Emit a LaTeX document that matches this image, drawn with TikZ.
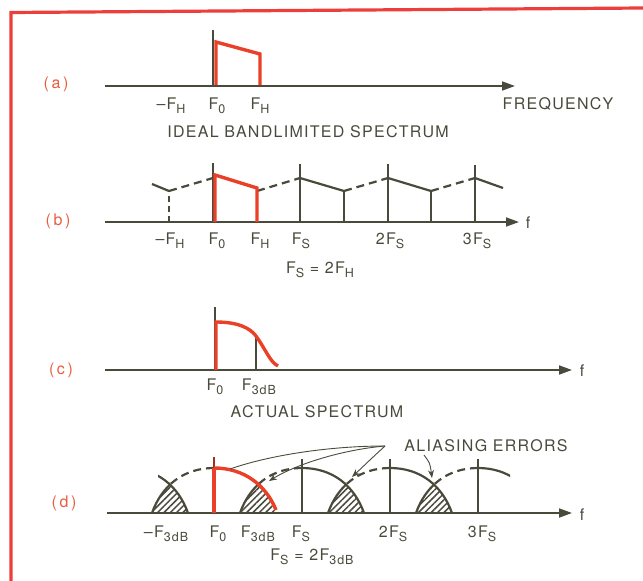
\documentclass[tikz,border=0pt]{standalone}
\usepackage{fontspec}
\setmainfont{TeX Gyre Heros}[LetterSpace=8]
\usepackage{tikz}
\usetikzlibrary{
  arrows.meta,
  patterns.meta
}
\definecolor{inkgray}{RGB}{74,74,60}
\definecolor{bandred}{RGB}{234,64,40}
\definecolor{partred}{RGB}{234,92,62}
\definecolor{framered}{RGB}{236,62,58}
\newcommand\dnsub[1]{\raisebox{-4pt}{\fontsize{12.5pt}{13pt}\selectfont #1}}
\tikzset{
  axisline/.style={
    line width=1.8pt,
    draw=inkgray,
    -{Triangle[length=13pt,width=9pt]},
  },
  tickline/.style={
    line width=1.1pt,
    draw=inkgray,
  },
  specline/.style={
    line width=2.2pt,
    draw=inkgray,
  },
  mirrorline/.style={
    specline,
    dash pattern=on 8pt off 5pt,
  },
  bandline/.style={
    line width=3.4pt,
    draw=bandred,
  },
  axlbl/.style={
    font=\fontsize{16pt}{18pt}\selectfont,
    text=inkgray,
    inner sep=0pt,
    anchor=base,
  },
  partlbl/.style={
    font=\fontsize{16pt}{18pt}\selectfont,
    text=partred,
    inner sep=0pt,
    anchor=base,
  },
  leader/.style={
    line width=0.9pt,
    draw=inkgray,
  },
  aliasfill/.style={
    pattern={Lines[angle=45,distance=4.5pt,line width=1.5pt]},
    pattern color=inkgray,
  },
}

\begin{document}
\begin{tikzpicture}[x=1pt, y=-1pt]
  \useasboundingbox (0,0) rectangle (643,581);

  % frame
  \draw[framered, line width=3.2pt] (11,581) -- (11,12.5) -- (643,8);

  % (a) ideal bandlimited spectrum
  \node[partlbl] (pa) at (56,88) {(\,a\,)};
  \draw[axisline] (105,86) -- (515,86);
  \draw[tickline] (213,86) -- (213,30);
  \draw[bandline] (216,85) -- (216,42) -- (260,54) -- (260,85);
  \node[axlbl] (amfh) at (171,109) {--F\dnsub{H}};
  \node[axlbl] (afz)  at (217,109) {F\dnsub{0}};
  \node[axlbl] (afh)  at (260,109) {F\dnsub{H}};
  \node[axlbl] (afreq) at (558,109) {FREQUENCY};
  \node[axlbl] (acap) at (308,137) {IDEAL BANDLIMITED SPECTRUM};

  % (b) sampled at 2F_H
  \node[partlbl] (pb) at (58,225) {(\,b\,)};
  \draw[axisline] (105,222) -- (519,222);
  \node[axlbl] (bf) at (528,228) {f};
  \draw[tickline, dash pattern=on 6pt off 4pt] (169,222) -- (169,191);
  \draw[tickline] (213,222) -- (213,163);
  \draw[tickline] (300,222) -- (300,164);
  \draw[tickline] (344,222) -- (344,191);
  \draw[tickline] (388,222) -- (388,164);
  \draw[tickline] (431,222) -- (431,191);
  \draw[tickline] (475,222) -- (475,165);
  \draw[specline] (152,184) -- (169,191);
  \draw[mirrorline] (169,191) -- (213,178);
  \draw[mirrorline] (257,191) -- (300,178);
  \draw[specline] (300,178) -- (344,191);
  \draw[mirrorline] (344,191) -- (388,178);
  \draw[specline] (388,178) -- (431,191);
  \draw[mirrorline] (431,191) -- (475,178);
  \draw[specline] (475,178) -- (503,188);
  \draw[bandline] (215,222) -- (215,175) -- (257,188) -- (257,222);
  \node[axlbl] (bmfh) at (170,244) {--F\dnsub{H}};
  \node[axlbl] (bfz)  at (217,244) {F\dnsub{0}};
  \node[axlbl] (bfh)  at (260,244) {F\dnsub{H}};
  \node[axlbl] (bfs)  at (301,244) {F\dnsub{S}};
  \node[axlbl] (b2fs) at (390,244) {2F\dnsub{S}};
  \node[axlbl] (b3fs) at (477,244) {3F\dnsub{S}};
  \node[axlbl] (bcap) at (320,273) {F\dnsub{S} = 2F\dnsub{H}};

  % (c) actual spectrum
  \node[partlbl] (pc) at (61,374) {(\,c\,)};
  \draw[axisline] (105,370) -- (572,370);
  \node[axlbl] (cf) at (582,376) {f};
  \draw[tickline] (215,370) -- (215,307);
  \draw[tickline] (256,370) -- (256,338);
  \draw[bandline] (216,370) -- (216,322)
    .. controls (238,322) and (250,328) .. (256,336)
    .. controls (266,350) and (270,362) .. (278,366);
  \node[axlbl] (cfz)  at (215,390) {F\dnsub{0}};
  \node[axlbl] (cf3)  at (259,390) {F\dnsub{3dB}};
  \node[axlbl] (ccap) at (317,417) {ACTUAL SPECTRUM};

  % (d) sampled at 2F_3dB, with aliasing
  \node[partlbl] (pd) at (64,507) {(\,d\,)};
  \foreach \cx in {126,214,302,390} {
    \begin{scope}
      \clip (\cx,468) .. controls (\cx+30,468) and (\cx+52,485) .. (\cx+62,513) -- (\cx,513) -- cycle;
      \fill[aliasfill] (\cx+88,468) .. controls (\cx+58,468) and (\cx+36,485) .. (\cx+26,513) -- (\cx+88,513) -- cycle;
    \end{scope}
  }
  \draw[axisline] (107,513) -- (572,513);
  \node[axlbl] (df) at (582,520) {f};
  \draw[tickline] (302,513) -- (302,459);
  \draw[tickline] (390,513) -- (390,459);
  \draw[tickline] (478,513) -- (478,459);
  \foreach \cx in {214,302,390,478} {
    \begin{scope}
      \clip (\cx-70,485) rectangle (\cx,520);
      \draw[specline] (\cx,468) .. controls (\cx-30,468) and (\cx-52,485) .. (\cx-62,513);
    \end{scope}
    \begin{scope}
      \clip (\cx-70,440) rectangle (\cx,485);
      \draw[mirrorline] (\cx,468) .. controls (\cx-30,468) and (\cx-52,485) .. (\cx-62,513);
    \end{scope}
  }
  \begin{scope}
    \clip (158,440) rectangle (200,520);
    \draw[specline] (126,468) .. controls (156,468) and (178,485) .. (188,513);
  \end{scope}
  \foreach \cx in {302,390} {
    \draw[specline] (\cx,468) .. controls (\cx+30,468) and (\cx+52,485) .. (\cx+62,513);
  }
  \begin{scope}
    \clip (470,440) rectangle (510,520);
    \draw[specline] (478,468) .. controls (508,468) and (530,485) .. (540,513);
  \end{scope}
  \draw[line width=1.1pt, draw=bandred!70!black] (214,513) -- (214,457);
  \draw[bandline] (214,513) -- (214,468);
  \draw[bandline] (214,468) .. controls (244,468) and (266,485) .. (276,510);
  \node[axlbl] (dmf3) at (166,537) {--F\dnsub{3dB}};
  \node[axlbl] (dfz)  at (218,537) {F\dnsub{0}};
  \node[axlbl] (df3)  at (258,537) {F\dnsub{3dB}};
  \node[axlbl] (dfs)  at (301,537) {F\dnsub{S}};
  \node[axlbl] (d2fs) at (393,537) {2F\dnsub{S}};
  \node[axlbl] (d3fs) at (482,537) {3F\dnsub{S}};
  \node[axlbl] (dcap) at (312,560) {F\dnsub{S} = 2F\dnsub{3dB}};

  % aliasing error callouts
  \node[axlbl] (alias) at (486,451) {ALIASING ERRORS};
  \coordinate (hub)  at (385,446);
  \coordinate (err0) at (230,469);
  \coordinate (err1) at (269,481);
  \coordinate (err2) at (352,477);
  \coordinate (err3) at (432,478);
  \draw[leader] (hub) .. controls (330,446) and (270,455) .. (err0);
  \draw[leader, -{Stealth[length=8pt,width=6pt]}] (hub) .. controls (340,450) and (295,465) .. (err1);
  \draw[leader, -{Stealth[length=8pt,width=6pt]}] (hub) .. controls (372,458) .. (err2);
  \draw[leader, -{Stealth[length=8pt,width=6pt]}] (424,455) .. controls (430,463) .. (err3);
\end{tikzpicture}
\end{document}
